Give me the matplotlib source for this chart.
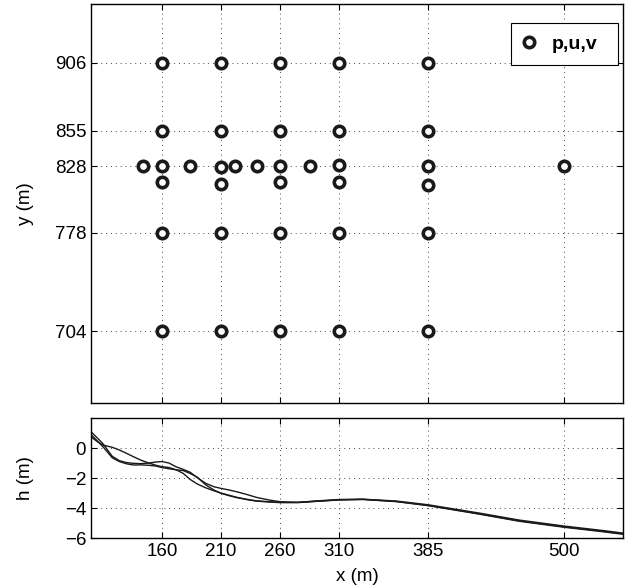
import matplotlib
matplotlib.use('Agg')
import matplotlib.pyplot as plt

plt.rcParams['font.family'] = ['Liberation Sans', 'DejaVu Sans']
plt.rcParams['font.size'] = 13.5

# instrument locations (x, y) in m
gauge_x = [160, 160, 160, 160, 160, 160,
           210, 210, 210, 210, 210, 210,
           260, 260, 260, 260, 260, 260,
           310, 310, 310, 310, 310, 310,
           385, 385, 385, 385, 385, 385,
           500, 144, 184, 222, 240, 285]
gauge_y = [906, 855, 828, 816, 778, 704,
           906, 855, 827.5, 814.5, 778, 704,
           906, 855, 828, 816, 778, 704,
           906, 855, 829, 816, 778, 704,
           906, 855, 828, 814, 778, 704,
           828, 828, 828, 828, 828, 828]

xticks = [160, 210, 260, 310, 385, 500]
yticks_top = [704, 778, 828, 855, 906]

# bathymetry transects
bath_x = [100, 105, 110, 118, 124, 130, 136, 142, 149, 155, 160, 166, 172, 178,
          184, 190, 197, 204, 210, 217, 223, 232, 240, 251, 260, 275, 290, 310,
          330, 358, 385, 428, 462, 500, 533, 550]
h_a = [0.75, 0.45, 0.2, 0.05, -0.13, -0.35, -0.58, -0.8, -1.0, -1.15, -1.24, -1.3,
       -1.45, -1.69, -2.1, -2.4, -2.65, -2.85, -3.0, -3.15, -3.28, -3.42, -3.52,
       -3.58, -3.62, -3.62, -3.55, -3.45, -3.42, -3.56, -3.82, -4.38, -4.85,
       -5.25, -5.55, -5.72]
h_b = [1.09, 0.7, 0.3, -0.55, -0.84, -0.97, -1.02, -1.04, -1.0, -0.93, -0.9, -1.0,
       -1.25, -1.42, -1.62, -1.98, -2.35, -2.58, -2.69, -2.8, -2.91, -3.1, -3.29,
       -3.47, -3.58, -3.62, -3.53, -3.43, -3.41, -3.53, -3.78, -4.33, -4.8,
       -5.2, -5.5, -5.67]
h_c = [0.9, 0.5, 0.1, -0.65, -0.9, -1.05, -1.13, -1.12, -1.15, -1.2, -1.3, -1.38,
       -1.45, -1.5, -1.7, -1.95, -2.45, -2.8, -3.02, -3.18, -3.3, -3.44, -3.54,
       -3.6, -3.64, -3.64, -3.56, -3.46, -3.43, -3.57, -3.84, -4.4, -4.88,
       -5.28, -5.58, -5.75]

fig = plt.figure(figsize=(6.31, 5.88), dpi=100)
ax1 = fig.add_axes([0.1442, 0.3146, 0.8431, 0.678])
ax2 = fig.add_axes([0.1442, 0.085, 0.8431, 0.204])

ax1.plot(gauge_x, gauge_y, 'o', ls='none', ms=7.5, mew=2.6, mec='#1a1a1a',
         mfc='white', label='p,u,v')
ax1.set_xlim(100, 550)
ax1.set_ylim(650, 950)
ax1.set_xticks(xticks)
ax1.set_xticklabels([])
ax1.set_yticks(yticks_top)
ax1.set_ylabel('y (m)')
leg = ax1.legend(loc='upper left', bbox_to_anchor=(0.789, 0.853, 0.2015, 0.1),
                 mode='expand', handlelength=0.6, handletextpad=0.9,
                 fancybox=False, edgecolor='black', framealpha=1,
                 borderpad=0.62, borderaxespad=0,
                 prop={'weight': 'bold', 'size': 14})
leg.get_frame().set_linewidth(0.8)

for h in (h_a, h_b, h_c):
    ax2.plot(bath_x, h, color='#1a1a1a', lw=1.0)
ax2.set_xlim(100, 550)
ax2.set_ylim(-6, 2)
ax2.set_xticks(xticks)
ax2.set_yticks([0, -2, -4, -6])
ax2.set_xlabel('x (m)', labelpad=6)
ax2.set_ylabel('h (m)')

for ax in (ax1, ax2):
    ax.yaxis.set_label_coords(-0.108, 0.5)
    ax.grid(True, ls=(0, (1, 4)), color='#444444', lw=0.7)
    ax.tick_params(direction='in', length=4, top=True, right=True)
    for s in ax.spines.values():
        s.set_linewidth(1.0)

fig.savefig('out.png', dpi=100)
